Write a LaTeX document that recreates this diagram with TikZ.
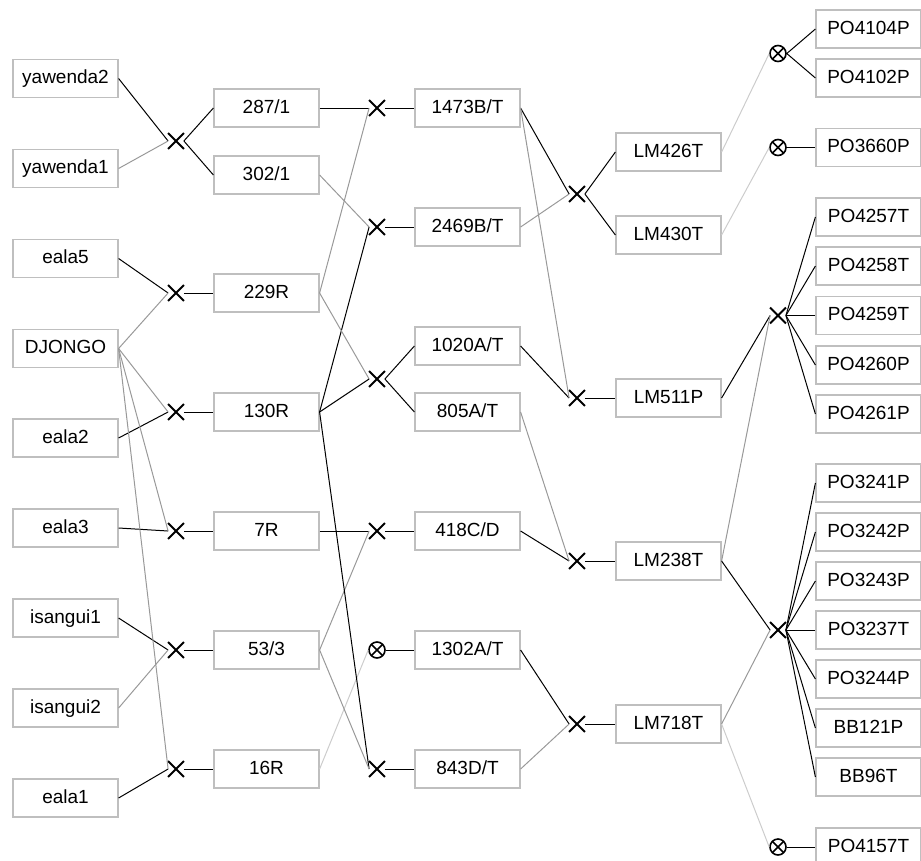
\documentclass[tikz,border=0pt]{standalone}
\usepackage{fontspec}
\setmainfont{Liberation Sans}
\usetikzlibrary{shapes.misc}

\definecolor{boxgray}{gray}{0.75}
\definecolor{midgray}{gray}{0.6}
\definecolor{palegray}{gray}{0.8}

\tikzset{
  box/.style={draw=boxgray, line width=1.2pt, minimum width=105pt, minimum height=38pt,
    inner sep=0pt, text height=13.5pt, text depth=3.5pt, font=\fontsize{19}{22}\selectfont},
  xmark/.style={cross out, draw, line width=1.8pt, minimum size=14pt, inner sep=0pt},
  omark/.style={circle, draw, line width=1.6pt, minimum size=16pt, inner sep=0pt,
    path picture={\draw[line width=1.6pt]
      (path picture bounding box.north west) -- (path picture bounding box.south east)
      (path picture bounding box.north east) -- (path picture bounding box.south west);}},
  dark/.style={draw=black, line width=1pt},
  mid/.style={draw=midgray, line width=1pt},
  pale/.style={draw=palegray, line width=1pt}
}

\begin{document}
\begin{tikzpicture}[x=1pt, y=-1pt]
        \useasboundingbox (0, 0) rectangle (921, 860);

        % First column of parents
        \node[box] (y2) at (65.5, 78.5) {yawenda2};
        \node[box] (y1) at (65.5, 168.5) {yawenda1};
        \node[box] (e5) at (65.5, 258.5) {eala5};
        \node[box] (dj) at (65.5, 348.5) {DJONGO};
        \node[box] (e2) at (65.5, 438) {eala2};
        \node[box] (e3) at (65.5, 528) {eala3};
        \node[box] (i1) at (65.5, 618) {isangui1};
        \node[box] (i2) at (65.5, 708) {isangui2};
        \node[box] (e1) at (65.5, 798) {eala1};

        % Crosses of the first generation
        \node[xmark] (xa1) at (176, 141) {};
        \node[xmark] (xa2) at (176, 293) {};
        \node[xmark] (xa3) at (176, 412) {};
        \node[xmark] (xa4) at (176, 531) {};
        \node[xmark] (xa5) at (176, 650) {};
        \node[xmark] (xa6) at (176, 769) {};

        \node[box] (r287) at (266.5, 108) {287/1};
        \node[box] (r302) at (266.5, 175) {302/1};
        \node[box] (r229) at (266.5, 293) {229R};
        \node[box] (r130) at (266.5, 412) {130R};
        \node[box] (r7) at (266.5, 531) {7R};
        \node[box] (r53) at (266.5, 650) {53/3};
        \node[box] (r16) at (266.5, 769) {16R};

        % Crosses of the second generation
        \node[xmark] (xb1) at (377, 108) {};
        \node[xmark] (xb2) at (377, 227) {};
        \node[xmark] (xb3) at (377, 379) {};
        \node[xmark] (xb4) at (377, 531) {};
        \node[omark] (ob5) at (377, 650) {};
        \node[xmark] (xb6) at (377, 769) {};

        \node[box] (t1473) at (467.5, 108) {1473B/T};
        \node[box] (t2469) at (467.5, 227) {2469B/T};
        \node[box] (t1020) at (467.5, 346) {1020A/T};
        \node[box] (t805) at (467.5, 412) {805A/T};
        \node[box] (t418) at (467.5, 531) {418C/D};
        \node[box] (t1302) at (467.5, 650) {1302A/T};
        \node[box] (t843) at (467.5, 769) {843D/T};

        % Crosses of the third generation
        \node[xmark] (xc1) at (577, 194) {};
        \node[xmark] (xc2) at (577, 398) {};
        \node[xmark] (xc3) at (577, 561) {};
        \node[xmark] (xc4) at (577, 724) {};

        \node[box] (lm426) at (668.5, 152) {LM426T};
        \node[box] (lm430) at (668.5, 235) {LM430T};
        \node[box] (lm511) at (668.5, 398) {LM511P};
        \node[box] (lm238) at (668.5, 561) {LM238T};
        \node[box] (lm718) at (668.5, 724) {LM718T};

        % Crosses of the last generation
        \node[omark] (od1) at (778, 53.5) {};
        \node[omark] (od2) at (778, 147.5) {};
        \node[xmark] (xd3) at (778, 315.5) {};
        \node[xmark] (xd4) at (778, 630) {};
        \node[omark] (od5) at (778, 847) {};

        \node[box] (po4104) at (868.5, 29) {PO4104P};
        \node[box] (po4102) at (868.5, 78) {PO4102P};
        \node[box] (po3660) at (868.5, 147.5) {PO3660P};
        \node[box] (po4257) at (868.5, 217) {PO4257T};
        \node[box] (po4258) at (868.5, 266) {PO4258T};
        \node[box] (po4259) at (868.5, 315.5) {PO4259T};
        \node[box] (po4260) at (868.5, 365) {PO4260P};
        \node[box] (po4261) at (868.5, 414) {PO4261P};
        \node[box] (po3241) at (868.5, 483) {PO3241P};
        \node[box] (po3242) at (868.5, 532) {PO3242P};
        \node[box] (po3243) at (868.5, 581) {PO3243P};
        \node[box] (po3237) at (868.5, 630) {PO3237T};
        \node[box] (po3244) at (868.5, 679) {PO3244P};
        \node[box] (bb121) at (868.5, 728) {BB121P};
        \node[box] (bb96) at (868.5, 777) {BB96T};
        \node[box] (po4157) at (868.5, 847) {PO4157T};

        % Parents into the first crosses
        \draw[dark] (y2.east) -- (xa1.west);
        \draw[mid] (y1.east) -- (xa1.west);
        \draw[dark] (e5.east) -- (xa2.west);
        \draw[mid] (dj.east) -- (xa2.west);
        \draw[dark] (e2.east) -- (xa3.west);
        \draw[mid] (dj.east) -- (xa3.west);
        \draw[dark] (e3.east) -- (xa4.west);
        \draw[mid] (dj.east) -- (xa4.west);
        \draw[dark] (i1.east) -- (xa5.west);
        \draw[mid] (i2.east) -- (xa5.west);
        \draw[dark] (e1.east) -- (xa6.west);
        \draw[mid] (dj.east) -- (xa6.west);

        \draw[dark] (xa1.east) -- (r287.west);
        \draw[dark] (xa1.east) -- (r302.west);
        \draw[dark] (xa2.east) -- (r229.west);
        \draw[dark] (xa3.east) -- (r130.west);
        \draw[dark] (xa4.east) -- (r7.west);
        \draw[dark] (xa5.east) -- (r53.west);
        \draw[dark] (xa6.east) -- (r16.west);

        % Second generation
        \draw[dark] (r287.east) -- (xb1.west);
        \draw[mid] (r229.east) -- (xb1.west);
        \draw[mid] (r302.east) -- (xb2.west);
        \draw[dark] (r130.east) -- (xb2.west);
        \draw[mid] (r229.east) -- (xb3.west);
        \draw[dark] (r130.east) -- (xb3.west);
        \draw[dark] (r7.east) -- (xb4.west);
        \draw[mid] (r53.east) -- (xb4.west);
        \draw[pale] (r16.east) -- (ob5.west);
        \draw[dark] (r130.east) -- (xb6.west);
        \draw[mid] (r53.east) -- (xb6.west);

        \draw[dark] (xb1.east) -- (t1473.west);
        \draw[dark] (xb2.east) -- (t2469.west);
        \draw[dark] (xb3.east) -- (t1020.west);
        \draw[dark] (xb3.east) -- (t805.west);
        \draw[dark] (xb4.east) -- (t418.west);
        \draw[dark] (ob5.east) -- (t1302.west);
        \draw[dark] (xb6.east) -- (t843.west);

        % Third generation
        \draw[dark] (t1473.east) -- (xc1.west);
        \draw[mid] (t2469.east) -- (xc1.west);
        \draw[dark] (t1020.east) -- (xc2.west);
        \draw[mid] (t1473.east) -- (xc2.west);
        \draw[dark] (t418.east) -- (xc3.west);
        \draw[mid] (t805.east) -- (xc3.west);
        \draw[dark] (t1302.east) -- (xc4.west);
        \draw[mid] (t843.east) -- (xc4.west);

        \draw[dark] (xc1.east) -- (lm426.west);
        \draw[dark] (xc1.east) -- (lm430.west);
        \draw[dark] (xc2.east) -- (lm511.west);
        \draw[dark] (xc3.east) -- (lm238.west);
        \draw[dark] (xc4.east) -- (lm718.west);

        % Last generation
        \draw[pale] (lm426.east) -- (od1.west);
        \draw[pale] (lm430.east) -- (od2.west);
        \draw[dark] (lm511.east) -- (xd3.west);
        \draw[mid] (lm238.east) -- (xd3.west);
        \draw[dark] (lm238.east) -- (xd4.west);
        \draw[mid] (lm718.east) -- (xd4.west);
        \draw[pale] (lm718.east) -- (od5.west);

        \draw[dark] (od1.east) -- (po4104.west);
        \draw[dark] (od1.east) -- (po4102.west);
        \draw[dark] (od2.east) -- (po3660.west);
        \draw[dark] (xd3.east) -- (po4257.west);
        \draw[dark] (xd3.east) -- (po4258.west);
        \draw[dark] (xd3.east) -- (po4259.west);
        \draw[dark] (xd3.east) -- (po4260.west);
        \draw[dark] (xd3.east) -- (po4261.west);
        \draw[dark] (xd4.east) -- (po3241.west);
        \draw[dark] (xd4.east) -- (po3242.west);
        \draw[dark] (xd4.east) -- (po3243.west);
        \draw[dark] (xd4.east) -- (po3237.west);
        \draw[dark] (xd4.east) -- (po3244.west);
        \draw[dark] (xd4.east) -- (bb121.west);
        \draw[dark] (xd4.east) -- (bb96.west);
        \draw[dark] (od5.east) -- (po4157.west);
    \end{tikzpicture}
\end{document}
